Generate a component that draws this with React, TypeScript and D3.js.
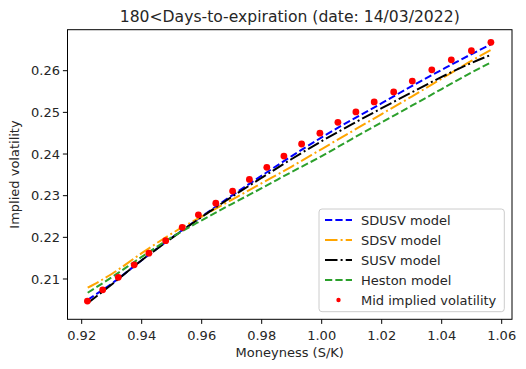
import * as d3 from "d3";
import React from "react";

// mid implied vol observations
const moneyness = [
  0.9219, 0.927, 0.9322, 0.9375, 0.9424, 0.948, 0.9535, 0.9589, 0.9647, 0.9703, 0.9759, 0.9817,
  0.9874, 0.9933, 0.9994, 1.0054, 1.0114, 1.0175, 1.024, 1.0302, 1.0367, 1.0432, 1.0499, 1.0564,
];
const midVol = [
  0.2047, 0.2074, 0.2104, 0.2134, 0.2162, 0.2192, 0.2224, 0.2254, 0.2282, 0.2311, 0.2339, 0.2368,
  0.2395, 0.2424, 0.245, 0.2476, 0.2501, 0.2525, 0.2549, 0.2575, 0.2602, 0.2626, 0.2648, 0.2668,
];

// model curves, sampled on a coarser grid
const gridX = [0.922, 0.93, 0.94, 0.95, 0.96, 0.97, 0.98, 0.99, 1.0, 1.01, 1.02, 1.03, 1.04, 1.05, 1.0564];
const sdusv = [0.205, 0.2089, 0.2145, 0.2199, 0.225, 0.23, 0.2348, 0.2395, 0.244, 0.2482, 0.2522, 0.2563, 0.2602, 0.264, 0.2663];
const sdsv = [0.2079, 0.2112, 0.2162, 0.2209, 0.225, 0.229, 0.233, 0.237, 0.2412, 0.2454, 0.2496, 0.2538, 0.2581, 0.2624, 0.265];
const susv = [0.2042, 0.2087, 0.2145, 0.2198, 0.2249, 0.2297, 0.2343, 0.2388, 0.2431, 0.2471, 0.251, 0.2548, 0.2585, 0.2619, 0.2638];
const heston = [0.2067, 0.2104, 0.2153, 0.22, 0.2241, 0.228, 0.2318, 0.2357, 0.2395, 0.2436, 0.2476, 0.2516, 0.2556, 0.2596, 0.262];

const xTicks = [0.92, 0.94, 0.96, 0.98, 1.0, 1.02, 1.04, 1.06];
const yTicks = [0.21, 0.22, 0.23, 0.24, 0.25, 0.26];

const W = 526;
const H = 369;
const margin = { top: 29.7, right: 14, bottom: 49.7, left: 67.5 };
const FONT = "DejaVu Sans, sans-serif";

const series = [
  { name: "SDUSV model", vals: sdusv, color: "#0000ff", dash: "7.25,3.1" },
  { name: "SDSV model", vals: sdsv, color: "#ffa500", dash: "12.5,3.1,2,3.1" },
  { name: "SUSV model", vals: susv, color: "#000000", dash: "12.5,3.1,2,3.1" },
  { name: "Heston model", vals: heston, color: "#2ca02c", dash: "7.25,3.1" },
];

export default function App() {
  const x = d3.scaleLinear().domain([0.915267, 1.063433]).range([margin.left, W - margin.right]);
  const y = d3.scaleLinear().domain([0.200326, 0.269842]).range([H - margin.bottom, margin.top]);

  const line = d3
    .line<[number, number]>()
    .x((d) => x(d[0]))
    .y((d) => y(d[1]))
    .curve(d3.curveMonotoneX);

  const left = margin.left;
  const right = W - margin.right;
  const top = margin.top;
  const bottom = H - margin.bottom;

  // legend box
  const lg = { x: 319, y: 209, w: 185.3, h: 102.7 };
  const rowY = (i: number) => 220 + i * 20;

  return (
    <div style={{ position: "absolute", left: 0, top: 0 }}>
      <svg width={W} height={H} style={{ display: "block", background: "#fff" }} fontFamily={FONT}>
        <rect x={0} y={0} width={W} height={H} fill="#fff" />

        {series.map((s) => (
          <path
            key={s.name}
            d={line(gridX.map((v, i) => [v, s.vals[i]]) as [number, number][]) || ""}
            fill="none"
            stroke={s.color}
            strokeWidth={2}
            strokeDasharray={s.dash}
          />
        ))}
        {moneyness.map((m, i) => (
          <circle key={i} cx={x(m)} cy={y(midVol[i])} r={3.4} fill="#ff0000" />
        ))}

        {/* spines */}
        <rect x={left} y={top} width={right - left} height={bottom - top} fill="none" stroke="#000" strokeWidth={1} />

        {xTicks.map((t) => (
          <g key={t}>
            <line x1={x(t)} x2={x(t)} y1={bottom} y2={bottom + 4.6} stroke="#000" strokeWidth={1} />
            <text x={x(t)} y={340} textAnchor="middle" fontSize={13} fill="#262626">
              {t.toFixed(2)}
            </text>
          </g>
        ))}
        {yTicks.map((t) => (
          <g key={t}>
            <line x1={left - 4.6} x2={left} y1={y(t)} y2={y(t)} stroke="#000" strokeWidth={1} />
            <text x={left - 7.5} y={y(t) + 4.7} textAnchor="end" fontSize={13} fill="#262626">
              {t.toFixed(2)}
            </text>
          </g>
        ))}

        <text x={(left + right) / 2} y={357} textAnchor="middle" fontSize={13} fill="#262626">
          Moneyness (S/K)
        </text>
        <text
          transform={`translate(19,${(top + bottom) / 2}) rotate(-90)`}
          textAnchor="middle"
          fontSize={13}
          fill="#262626"
        >
          Implied volatility
        </text>
        <text x={(left + right) / 2} y={22} textAnchor="middle" fontSize={15.6} fill="#262626">
          180&lt;Days-to-expiration (date: 14/03/2022)
        </text>

        {/* legend */}
        <rect x={lg.x} y={lg.y} width={lg.w} height={lg.h} rx={3} fill="#fff" fillOpacity={0.8} stroke="#cccccc" strokeWidth={1} />
        {series.map((s, i) => (
          <g key={s.name}>
            <line x1={325} x2={352} y1={rowY(i)} y2={rowY(i)} stroke={s.color} strokeWidth={2} strokeDasharray={s.dash} />
            <text x={361} y={rowY(i) + 4.7} fontSize={13} fill="#262626">
              {s.name}
            </text>
          </g>
        ))}
        <circle cx={338.5} cy={rowY(4)} r={2.2} fill="#ff0000" />
        <text x={361} y={rowY(4) + 4.7} fontSize={13} fill="#262626">
          Mid implied volatility
        </text>
      </svg>
    </div>
  );
}
